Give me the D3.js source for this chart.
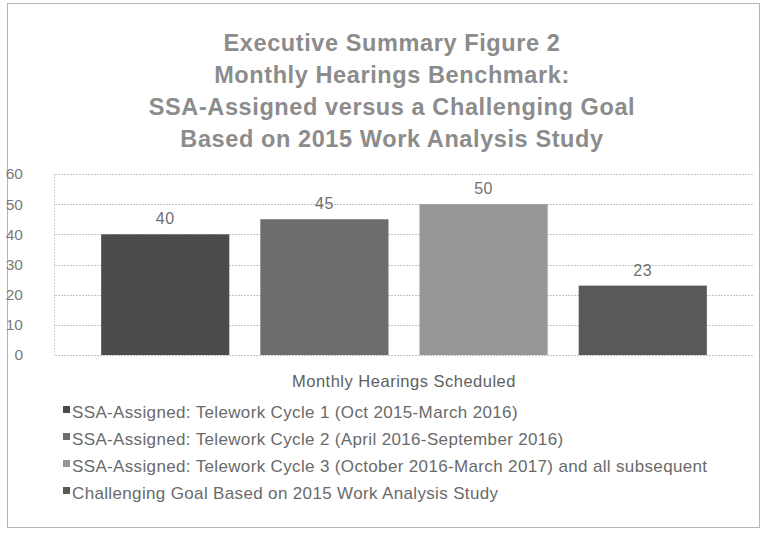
<!DOCTYPE html>
<html>
<head>
<meta charset="utf-8">
<script src="https://cdn.jsdelivr.net/npm/d3@7"></script>
<style>
  body { margin: 0; background: #fff; }
  svg text { font-family: Arial, "Liberation Sans", Helvetica, sans-serif; }
</style>
</head>
<body>
<div id="chart"></div>
<script>
// data
const titleLines = [
  "Executive Summary Figure 2",
  "Monthly Hearings Benchmark:",
  "SSA-Assigned versus a Challenging Goal",
  "Based on 2015 Work Analysis Study"
];
const category = "Monthly Hearings Scheduled";
const seriesNames = [
  "SSA-Assigned: Telework Cycle 1 (Oct 2015-March 2016)",
  "SSA-Assigned: Telework Cycle 2 (April 2016-September 2016)",
  "SSA-Assigned: Telework Cycle 3 (October 2016-March 2017) and all subsequent",
  "Challenging Goal Based on 2015 Work Analysis Study"
];
const values = [40, 45, 50, 23];
const yTicks = [0, 10, 20, 30, 40, 50, 60];
const colors = ["#4b4b4b", "#6d6d6d", "#979797", "#595959"];

const width = 762, height = 534;
const margin = { top: 174, right: 9, bottom: 179, left: 55 };

const svg = d3.select("#chart").append("svg")
  .attr("width", width)
  .attr("height", height);

// outer frame
svg.append("rect")
  .attr("x", 7.5).attr("y", 3.5)
  .attr("width", width - 10).attr("height", height - 10)
  .attr("fill", "none")
  .attr("stroke", "#b5b5b5")
  .attr("stroke-width", 1);

// title
svg.append("g").selectAll("text")
  .data(titleLines)
  .enter().append("text")
    .attr("x", 392)
    .attr("y", (d, i) => 51 + i * 32)
    .attr("text-anchor", "middle")
    .attr("font-size", 23.5)
    .attr("font-weight", "bold")
    .attr("letter-spacing", 0.6)
    .attr("fill", "#8c8c8c")
    .text(d => d);

const x = d3.scaleBand()
  .domain(seriesNames)
  .range([margin.left, width - margin.right])
  .paddingInner(0.195)
  .paddingOuter(0.29);

const y = d3.scaleLinear()
  .domain([0, 60])
  .range([height - margin.bottom, margin.top]);

// gridlines
svg.append("g").selectAll("line")
  .data(yTicks)
  .enter().append("line")
    .attr("x1", margin.left)
    .attr("x2", width - margin.right)
    .attr("y1", d => Math.round(y(d)) + 0.5)
    .attr("y2", d => Math.round(y(d)) + 0.5)
    .attr("stroke", "#c4c4c4")
    .attr("stroke-dasharray", "2,1");

svg.append("line")
  .attr("x1", margin.left - 0.5).attr("x2", margin.left - 0.5)
  .attr("y1", y(60)).attr("y2", y(0))
  .attr("stroke", "#d6d6d6")
  .attr("stroke-dasharray", "2,1");

// y axis labels
const yAxis = d3.axisLeft(y).tickValues(yTicks).tickSize(0).tickPadding(0);
svg.append("g")
  .attr("transform", "translate(23,0)")
  .call(yAxis)
  .call(g => g.select(".domain").remove())
  .call(g => g.selectAll("text")
    .attr("font-family", "Arial, Liberation Sans, sans-serif")
    .attr("font-size", 15.5)
    .attr("fill", "#7a7a7a"));

// bars
svg.append("g").selectAll("rect")
  .data(values)
  .enter().append("rect")
    .attr("x", (d, i) => x(seriesNames[i]))
    .attr("y", d => y(d))
    .attr("width", x.bandwidth())
    .attr("height", d => y(0) - y(d))
    .attr("fill", (d, i) => colors[i]);

// value labels
svg.append("g").selectAll("text")
  .data(values)
  .enter().append("text")
    .attr("x", (d, i) => x(seriesNames[i]) + x.bandwidth() / 2)
    .attr("y", d => y(d) - 10)
    .attr("text-anchor", "middle")
    .attr("font-size", 16)
    .attr("letter-spacing", 0.5)
    .attr("fill", "#707070")
    .text(d => d);

// category label
svg.append("text")
  .attr("x", (margin.left + width - margin.right) / 2)
  .attr("y", 387)
  .attr("text-anchor", "middle")
  .attr("font-size", 16.5)
  .attr("letter-spacing", 0.5)
  .attr("fill", "#606060")
  .text(category);

// legend
const legend = svg.append("g").selectAll("g")
  .data(seriesNames)
  .enter().append("g")
    .attr("transform", (d, i) => `translate(63,${412 + i * 27})`);

legend.append("rect")
  .attr("x", 0).attr("y", -6)
  .attr("width", 7).attr("height", 7)
  .attr("fill", (d, i) => colors[i]);

legend.append("text")
  .attr("x", 9)
  .attr("y", 0)
  .attr("dy", "0.35em")
  .attr("font-size", 17)
  .attr("letter-spacing", 0.35)
  .attr("fill", "#6a6a6a")
  .text(d => d);
</script>
</body>
</html>
